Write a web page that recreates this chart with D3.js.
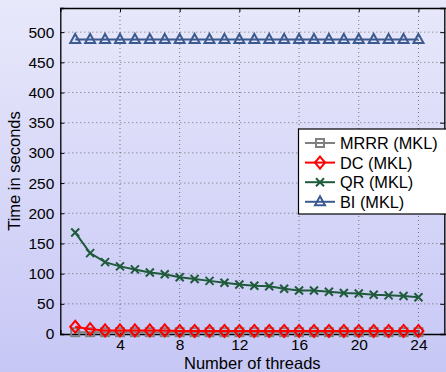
<!DOCTYPE html>
<html>
<head>
<meta charset="utf-8">
<script src="https://cdn.jsdelivr.net/npm/d3@7"></script>
<style>
  html, body { margin: 0; padding: 0; }
  body { width: 446px; height: 372px; overflow: hidden; }
  text { font-family: "Liberation Sans", Arial, sans-serif; }
</style>
</head>
<body>
<svg id="chart"></svg>
<script>
// data
var threads = d3.range(1, 25)
var mrrr = [3, 3, 3, 3, 3, 3, 3, 3, 3, 3, 3, 3, 3, 3, 3, 3, 3, 3, 3, 3, 3, 3, 3, 3]
var dc = [12, 8, 6, 6, 6, 6, 6, 5, 5, 5, 5, 5, 5, 5, 5, 5, 5, 5, 5, 5, 5, 5, 5, 5]
var qr = [168, 134, 119, 112, 107, 102, 99, 94, 91, 88, 85, 82, 80, 79, 75, 72, 72, 70, 68, 67, 65, 64, 63, 61]
var bi = [488, 488, 488, 488, 488, 488, 488, 488, 488, 488, 488, 488, 488, 488, 488, 488, 488, 488, 488, 488, 488, 488, 488, 488]
var seriesNames = ['MRRR (MKL)', 'DC (MKL)', 'QR (MKL)', 'BI (MKL)']
var xTicks = [4, 8, 12, 16, 20, 24]
var yTicks = d3.range(0, 501, 50)

var w = 446,
  h = 372,
  mLeft = 60.3,
  mRight = 448.3,
  mTop = 8,
  mBottom = 334

var series = [
  { name: seriesNames[0], values: mrrr, color: '#808080', marker: 'square' },
  { name: seriesNames[1], values: dc, color: '#ff0000', marker: 'diamond' },
  { name: seriesNames[2], values: qr, color: '#1f5b3b', marker: 'cross' },
  { name: seriesNames[3], values: bi, color: '#3b5a8e', marker: 'triangle' }
]

var x = d3.scaleLinear().domain([0, 26]).range([mLeft, mRight])
var y = d3.scaleLinear().domain([0, 540]).range([mBottom, mTop])

var svg = d3.select('#chart').attr('width', w).attr('height', h)

var grad = svg.append('defs').append('linearGradient')
  .attr('id', 'bg').attr('x1', 0).attr('y1', 0).attr('x2', 0).attr('y2', 1)
grad.append('stop').attr('offset', 0).attr('stop-color', '#e8e8fb')
grad.append('stop').attr('offset', 1).attr('stop-color', '#c7c7f6')
svg.append('rect').attr('width', w).attr('height', h).attr('fill', 'url(#bg)')

// grid
var grid = svg.append('g').attr('stroke', '#555').attr('stroke-width', 0.8)
  .attr('stroke-dasharray', '1,3')
grid.selectAll('.gx').data(xTicks).join('line')
  .attr('x1', d => x(d)).attr('x2', d => x(d)).attr('y1', mTop).attr('y2', mBottom)
grid.selectAll('.gy').data(yTicks.slice(1)).join('line')
  .attr('y1', d => y(d)).attr('y2', d => y(d)).attr('x1', mLeft).attr('x2', mRight)

// axes, MATLAB style ticks pointing inward
svg.append('g').attr('transform', 'translate(0,' + mBottom + ')')
  .call(d3.axisBottom(x).tickValues(xTicks).tickSize(-4).tickPadding(5))
svg.append('g').attr('transform', 'translate(' + mLeft + ',0)')
  .call(d3.axisLeft(y).tickValues(yTicks).tickSize(-4).tickPadding(6))
svg.append('g').attr('transform', 'translate(0,' + mTop + ')')
  .call(d3.axisTop(x).tickValues(xTicks).tickSize(-4).tickFormat(''))
svg.append('g').attr('transform', 'translate(' + (mRight - 4) + ',0)')
  .call(d3.axisRight(y).tickValues(yTicks).tickSize(-4).tickFormat(''))
svg.selectAll('.domain').attr('stroke', '#000').attr('stroke-width', 1.3)
svg.selectAll('.tick line').attr('stroke', '#000')
svg.selectAll('.tick text').attr('font-size', 15.5).attr('fill', '#000')
  .attr('font-family', '"Liberation Sans", Arial, sans-serif')

svg.append('text').attr('x', (mLeft + mRight) / 2 - 2).attr('y', 369)
  .attr('text-anchor', 'middle').attr('font-size', 16.5).text('Number of threads')
svg.append('text').attr('transform', 'translate(20,' + (mTop + mBottom) / 2 + ') rotate(-90)')
  .attr('text-anchor', 'middle').attr('font-size', 16.5).text('Time in seconds')

function marker(g, type, color) {
  if (type == 'square') {
    g.append('rect').attr('x', -4).attr('y', -4).attr('width', 8).attr('height', 8)
      .attr('fill', 'none').attr('stroke', color).attr('stroke-width', 2)
  } else if (type == 'diamond') {
    g.append('path').attr('d', 'M0,-6L5,0L0,6L-5,0Z')
      .attr('fill', 'none').attr('stroke', color).attr('stroke-width', 2)
  } else if (type == 'cross') {
    g.append('path').attr('d', 'M-4,-4L4,4M-4,4L4,-4')
      .attr('stroke', color).attr('stroke-width', 2)
  } else {
    g.append('path').attr('d', 'M0,-5.5L5,3.5L-5,3.5Z')
      .attr('fill', 'none').attr('stroke', color).attr('stroke-width', 2)
  }
}

var line = d3.line().x((d, i) => x(threads[i])).y(d => y(d))

series.forEach(function(s) {
  var g = svg.append('g')
  g.append('path').attr('d', line(s.values)).attr('fill', 'none')
    .attr('stroke', s.color).attr('stroke-width', 2)
  s.values.forEach(function(v, i) {
    var m = g.append('g').attr('transform', 'translate(' + x(threads[i]) + ',' + y(v) + ')')
    marker(m, s.marker, s.color)
  })
})

// legend
var lg = svg.append('g')
lg.append('rect').attr('x', 298.5).attr('y', 129).attr('width', 160).attr('height', 85)
  .attr('fill', '#fff').attr('stroke', '#000').attr('stroke-width', 1.2)
series.forEach(function(s, i) {
  var yy = 143 + i * 19.6
  lg.append('line').attr('x1', 305).attr('x2', 335).attr('y1', yy).attr('y2', yy)
    .attr('stroke', s.color).attr('stroke-width', 2)
  var m = lg.append('g').attr('transform', 'translate(320,' + yy + ')')
  marker(m, s.marker, s.color)
  lg.append('text').attr('x', 340).attr('y', yy + 6).attr('font-size', 16.3).text(s.name)
})
</script>
</body>
</html>
